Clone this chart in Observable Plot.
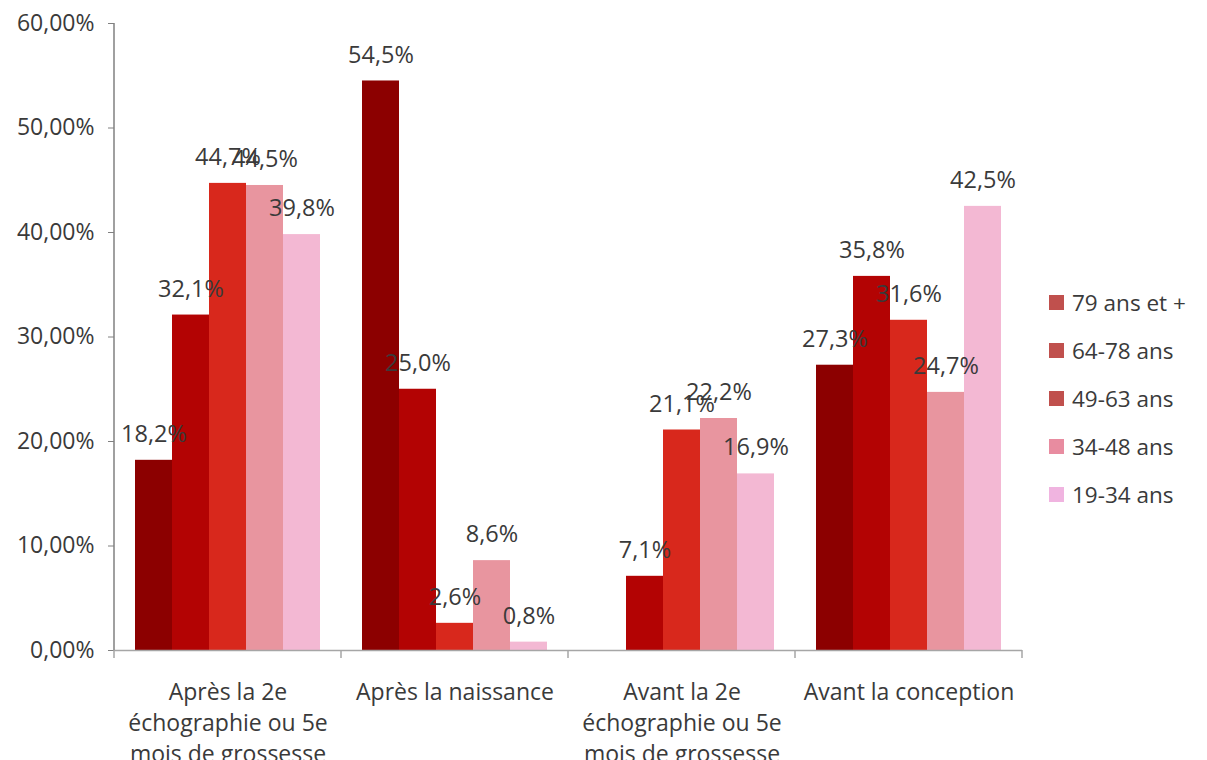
<!DOCTYPE html>
<html><head><meta charset="utf-8">
<script src="https://cdn.jsdelivr.net/npm/d3@7"></script>
<script src="https://cdn.jsdelivr.net/npm/@observablehq/plot@0.6"></script>
<style>
body{margin:0;background:#fff;font-family:"Open Sans",sans-serif;}
#wrap{position:relative;width:1207px;height:760px;overflow:hidden}
#legend{position:absolute;left:1049px;top:278px;}
.item{display:flex;align-items:center;height:48px;font-size:22.5px;color:#3a3a3a}
.sw{width:15px;height:15px;margin-right:8px}
</style></head><body><div id="wrap"><div id="chart"></div><div id="legend"></div></div>
<script>
const categories = [
  "Après la 2e\néchographie ou 5e\nmois de grossesse",
  "Après la naissance",
  "Avant la 2e\néchographie ou 5e\nmois de grossesse",
  "Avant la conception"
];
const series = ["79 ans et +", "64-78 ans", "49-63 ans", "34-48 ans", "19-34 ans"];
const v79 = [18.2, 54.5, null, 27.3];
const v64 = [32.1, 25.0, 7.1, 35.8];
const v49 = [44.7, 2.6, 21.1, 31.6];
const v34 = [44.5, 8.6, 22.2, 24.7];
const v19 = [39.8, 0.8, 16.9, 42.5];
const yTicks = [0, 10, 20, 30, 40, 50, 60];
const barColors = ["#8c0000", "#b30303", "#d8281c", "#e8959f", "#f3b8d3"];
const legendColors = ["#c0504d", "#c0504d", "#c0504d", "#e88ca0", "#f0b4e0"];

const seriesValues = [v79, v64, v49, v34, v19];
const data = [];
categories.forEach((c, i) => {
  series.forEach((s, j) => {
    const v = seriesValues[j][i];
    if (v != null) data.push({cat: c, series: s, value: v});
  });
});

const fmtPct = d => d.toFixed(1).replace(".", ",") + "%";
const fmtAxis = d => d.toFixed(2).replace(".", ",") + "%";

const plot = Plot.plot({
  width: 1207,
  height: 760,
  marginLeft: 114,
  marginRight: 185,
  marginTop: 23,
  marginBottom: 110,
  style: {fontFamily: "'Open Sans', sans-serif", background: "#fff"},
  fx: {domain: categories, padding: 0, label: null},
  x: {domain: series, paddingInner: 0, paddingOuter: 0.49, axis: null},
  y: {domain: [0, 60], label: null},
  color: {domain: series, range: barColors},
  marks: [
    Plot.barY(data, {fx: "cat", x: "series", y: "value", fill: "series"}),
    Plot.ruleY([0], {stroke: "#a6a6a6", strokeWidth: 1.5}),
    Plot.text(data, {fx: "cat", x: "series", y: "value", text: d => fmtPct(d.value), dy: -26, fontSize: 23.5, fill: "#3a3a3a"}),
    Plot.axisY({ticks: yTicks, tickFormat: fmtAxis, tickSize: 6, tickPadding: 14, fontSize: 23, fill: "#3a3a3a", stroke: "#808080", label: null}),
    Plot.axisFx({anchor: "bottom", tickSize: 0, tickPadding: 27, fontSize: 23, lineHeight: 1.35, fill: "#3a3a3a", label: null})
  ]
});
document.getElementById("chart").appendChild(plot);

// axis lines and category boundary ticks derived from the scales
const ys = plot.scale("y"), fxs = plot.scale("fx");
const svg = d3.select(plot);
const x0 = fxs.apply(categories[0]);
svg.append("line").attr("x1", x0).attr("x2", x0)
  .attr("y1", ys.apply(0)).attr("y2", ys.apply(60))
  .attr("stroke", "#808080").attr("stroke-width", 1.5);
const bounds = categories.map(c => fxs.apply(c));
bounds.push(fxs.apply(categories[categories.length - 1]) + fxs.bandwidth);
bounds.forEach(b => {
  svg.append("line").attr("x1", b).attr("x2", b)
    .attr("y1", ys.apply(0)).attr("y2", ys.apply(0) + 8)
    .attr("stroke", "#a6a6a6").attr("stroke-width", 1.5);
});

const legend = d3.select("#legend");
series.forEach((s, i) => {
  const it = legend.append("div").attr("class", "item");
  it.append("div").attr("class", "sw").style("background", legendColors[i]);
  it.append("span").text(s);
});
</script>
</body></html>
